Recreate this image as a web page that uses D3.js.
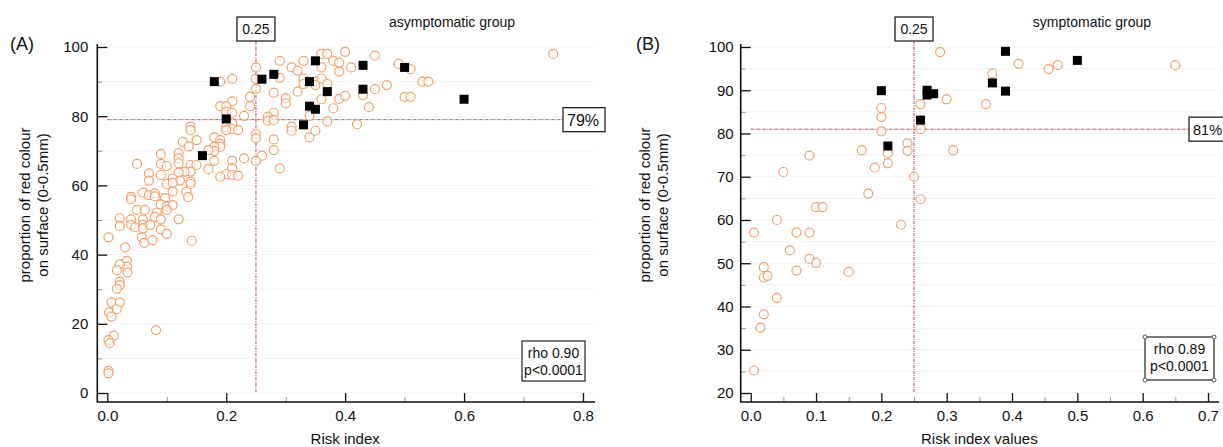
<!DOCTYPE html>
<html>
<head>
<meta charset="utf-8">
<script src="https://cdn.jsdelivr.net/npm/d3@7"></script>
<style>
body{margin:0;background:#fff}
text{font-family:"Liberation Sans",Arial,sans-serif;fill:#111}
</style>
</head>
<body>
<div id="chart"></div>
<script>
var w = 1223, h = 447

// asymptomatic group (A): [risk index, % red colour]
var asymOpen = [
[0.25,94.1],[0.21,90.8],[0.19,90.0],[0.25,90.8],[0.25,87.9],[0.24,85.6],[0.21,84.3],[0.19,82.9],[0.20,82.9],[0.24,82.9],
[0.20,81.3],[0.21,81.0],[0.23,80.1],[0.20,77.0],[0.21,77.9],[0.21,76.3],[0.22,76.0],[0.20,76.0],[0.14,77.0],[0.14,76.0],
[0.15,73.1],[0.127,72.6],[0.137,71.3],[0.18,73.9],[0.19,73.1],[0.19,72.0],[0.19,71.2],[0.18,71.2],[0.18,70.0],[0.25,74.9],
[0.25,73.6],[0.26,68.6],[0.25,67.1],[0.23,67.8],[0.17,70.2],[0.18,67.1],[0.17,64.7],[0.21,67.1],[0.21,65.0],[0.20,63.3],
[0.21,63.0],[0.22,62.8],[0.19,62.5],[0.12,69.3],[0.12,67.8],[0.12,66.4],[0.09,69.1],[0.09,66.2],[0.10,65.6],[0.05,66.2],
[0.14,65.9],[0.15,65.9],[0.14,64.0],[0.13,64.0],[0.12,63.7],[0.11,62.0],[0.122,61.4],[0.14,61.1],[0.14,60.4],[0.09,63.0],
[0.07,63.5],[0.07,61.4],[0.10,60.4],[0.11,60.8],[0.06,57.9],[0.07,57.2],[0.08,57.7],[0.08,56.8],[0.04,56.7],[0.04,56.0],
[0.097,56.3],[0.11,58.2],[0.133,58.2],[0.136,56.6],[0.09,54.5],[0.10,54.0],[0.11,54.3],[0.05,52.9],[0.063,52.9],[0.083,52.1],
[0.021,50.5],[0.021,48.3],[0.04,50.2],[0.04,48.6],[0.047,47.9],[0.06,50.2],[0.06,48.6],[0.06,47.6],[0.072,48.6],[0.08,50.9],
[0.09,50.2],[0.09,47.3],[0.10,46.0],[0.10,52.9],[0.12,50.2],[0.058,45.0],[0.062,43.4],[0.076,44.2],[0.142,44.0],[0.002,45.0],
[0.03,42.1],[0.033,38.2],[0.033,36.5],[0.034,34.8],[0.021,37.2],[0.016,35.5],[0.021,32.2],[0.021,31.2],[0.016,30.1],[0.007,26.2],
[0.021,26.2],[0.003,23.3],[0.016,24.2],[0.007,22.1],[0.082,18.2],[0.011,16.6],[0.002,15.3],[0.004,14.4],[0.002,6.4],[0.002,5.7],
[0.36,98.0],[0.37,98.0],[0.40,98.6],[0.45,97.5],[0.29,96.0],[0.33,96.0],[0.38,96.0],[0.39,95.5],[0.39,92.9],[0.36,94.1],
[0.31,94.1],[0.32,93.2],[0.41,94.1],[0.49,95.1],[0.51,93.6],[0.53,90.0],[0.54,90.0],[0.29,91.1],[0.33,90.9],[0.35,90.0],
[0.35,89.0],[0.36,90.9],[0.37,89.3],[0.33,89.3],[0.32,87.1],[0.28,86.8],[0.30,85.2],[0.30,83.7],[0.36,84.9],[0.39,85.0],
[0.40,85.9],[0.43,86.1],[0.45,87.8],[0.47,89.0],[0.50,85.6],[0.51,85.6],[0.38,82.3],[0.44,82.6],[0.28,81.0],[0.27,79.9],
[0.27,78.7],[0.28,78.9],[0.34,80.1],[0.31,77.0],[0.31,75.8],[0.35,75.8],[0.34,73.9],[0.37,78.5],[0.42,77.7],[0.28,73.3],
[0.28,70.2],[0.29,64.9],[0.75,98.0]
]
var asymFilled = [
[0.18,90.0],[0.26,90.7],[0.28,92.1],[0.35,96.0],[0.43,94.7],[0.50,94.1],[0.34,90.0],[0.37,87.1],
[0.43,87.8],[0.34,82.9],[0.35,82.0],[0.33,77.5],[0.20,79.2],[0.16,68.6],[0.60,84.9]
]

// symptomatic group (B)
var symOpen = [
[0.005,57.1],[0.04,60.0],[0.07,57.1],[0.09,57.1],[0.06,53.0],[0.09,51.0],[0.10,50.1],[0.02,49.1],[0.02,46.7],[0.026,47.1],
[0.07,48.3],[0.15,48.0],[0.04,42.0],[0.02,38.2],[0.015,35.1],[0.005,25.2],[0.23,58.9],[0.10,63.0],[0.11,63.0],[0.05,71.1],
[0.09,74.9],[0.17,76.1],[0.19,72.1],[0.18,66.1],[0.20,85.9],[0.20,83.8],[0.20,80.5],[0.21,75.5],[0.21,73.1],[0.29,98.8],
[0.41,96.1],[0.37,93.9],[0.456,94.9],[0.47,95.8],[0.30,87.9],[0.36,86.8],[0.26,86.8],[0.26,81.0],[0.24,77.7],[0.24,76.0],
[0.31,76.1],[0.25,70.0],[0.26,64.8],[0.65,95.8]
]
var symFilled = [
[0.20,89.9],[0.21,77.1],[0.39,99.0],[0.27,90.0],[0.27,88.9],[0.28,89.2],[0.26,83.1],[0.37,91.7],[0.39,89.8],[0.50,96.9]
]

var asymXTicks = [0, 0.2, 0.4, 0.6, 0.8]
var asymXMinor = [0.1, 0.3, 0.5, 0.7]
var asymYTicks = [0, 20, 40, 60, 80, 100]
var asymYMinor = [10, 30, 50, 70, 90]
var symXTicks = [0, 0.1, 0.2, 0.3, 0.4, 0.5, 0.6, 0.7]
var symXMinor = [0.05, 0.15, 0.25, 0.35, 0.45, 0.55, 0.65]
var symYTicks = [20, 30, 40, 50, 60, 70, 80, 90, 100]
var symYMinor = [25, 35, 45, 55, 65, 75, 85, 95]

var svg = d3.select("#chart").append("svg").attr("width", w).attr("height", h)

var orange = "#f5a06a"
var refColor = "#b9485c"

function drawPanel(p){
    var x = d3.scaleLinear().domain(p.xDomain).range(p.xRange)
    var y = d3.scaleLinear().domain(p.yDomain).range([393, 47])
    var g = svg.append("g")
    var axX = p.xRange[0] - 10, axY = 402

    // faint grid
    g.selectAll(".grid").data(p.yTicks.concat(p.yMinor)).enter().append("line")
        .attr("x1", axX).attr("x2", p.axEnd)
        .attr("y1", function(d){return y(d)}).attr("y2", function(d){return y(d)})
        .attr("stroke", "#f3f3f3").attr("stroke-width", 1)

    // reference lines
    g.append("line").attr("x1", x(p.refX)).attr("x2", x(p.refX))
        .attr("y1", 41).attr("y2", y(p.yDomain[0]))
        .attr("stroke", refColor).attr("stroke-width", 1).attr("stroke-dasharray", "3,1,1,1")
    g.append("line").attr("x1", x(0)).attr("x2", p.pctBox[0])
        .attr("y1", y(p.refY)).attr("y2", y(p.refY))
        .attr("stroke", refColor).attr("stroke-width", 1).attr("stroke-dasharray", "3,1,1,1")

    // axes
    var yAx = g.append("g").attr("transform", "translate(" + axX + ",0)")
        .call(d3.axisLeft(y).tickValues(p.yTicks).tickSizeInner(-10).tickSizeOuter(0).tickPadding(p.yPad))
    var yMin = g.append("g").attr("transform", "translate(" + axX + ",0)")
        .call(d3.axisLeft(y).tickValues(p.yMinor).tickSizeInner(-5).tickSizeOuter(0).tickFormat(""))
    var xAx = g.append("g").attr("transform", "translate(0," + axY + ")")
        .call(d3.axisBottom(x).tickValues(p.xTicks).tickSizeInner(-9).tickSizeOuter(0).tickPadding(8).tickFormat(d3.format(".1f")))
    var xMin = g.append("g").attr("transform", "translate(0," + axY + ")")
        .call(d3.axisBottom(x).tickValues(p.xMinor).tickSizeInner(-5).tickSizeOuter(0).tickFormat(""))
    g.selectAll(".domain").remove()
    yAx.selectAll("line").attr("stroke", "#111").attr("stroke-width", 1.3)
    xAx.selectAll("line").attr("stroke", "#111").attr("stroke-width", 1.3)
    yMin.selectAll("line").attr("stroke", "#999")
    xMin.selectAll("line").attr("stroke", "#999")
    g.selectAll(".tick text").attr("font-size", 15).style("font-family", "Liberation Sans, Arial, sans-serif")
    g.append("path").attr("d", "M" + axX + ",44V" + axY + "H" + p.axEnd)
        .attr("fill", "none").attr("stroke", "#111").attr("stroke-width", 1.6)

    // points
    g.selectAll(".open").data(p.open).enter().append("circle")
        .attr("cx", function(d){return x(d[0])})
        .attr("cy", function(d){return y(d[1])})
        .attr("r", 4.5).attr("fill", "#fff").attr("fill-opacity", 0.6)
        .attr("stroke", orange).attr("stroke-width", 1.2)
    g.selectAll(".filled").data(p.filled).enter().append("rect")
        .attr("x", function(d){return x(d[0]) - 4.5})
        .attr("y", function(d){return y(d[1]) - 4.5})
        .attr("width", 9).attr("height", 9).attr("fill", "#000")

    // labels
    g.append("text").attr("x", p.panelX).attr("y", 50).attr("font-size", 18).text(p.panel)
    g.append("text").attr("x", p.titleX).attr("y", 27).attr("font-size", 14).attr("text-anchor", "middle").text(p.title)
    g.append("text").attr("x", (p.xRange[0] + p.xRange[1]) / 2).attr("y", 444)
        .attr("font-size", 15).attr("text-anchor", "middle").text(p.xLabel)
    var yl = g.append("text").attr("transform", "translate(" + p.yLabelX + ",205) rotate(-90)")
        .attr("font-size", 15).attr("text-anchor", "middle")
    yl.append("tspan").attr("x", 0).attr("dy", 0).text("proportion of red colour")
    yl.append("tspan").attr("x", 0).attr("dy", 18).text("on surface (0-0.5mm)")

    // 0.25 box
    var bx = x(p.refX)
    g.append("rect").attr("x", bx - 19).attr("y", 17).attr("width", 38).attr("height", 24)
        .attr("fill", "#fff").attr("stroke", "#222").attr("stroke-width", 1.3)
    g.append("text").attr("x", bx).attr("y", 34).attr("font-size", 14).attr("text-anchor", "middle").text("0.25")

    // percent box
    var py = y(p.refY)
    g.append("rect").attr("x", p.pctBox[0]).attr("y", py - 12).attr("width", p.pctBox[1]).attr("height", 24)
        .attr("fill", "#fff").attr("stroke", "#222").attr("stroke-width", 1.3)
    g.append("text").attr("x", p.pctBox[0] + 4).attr("y", py + 6).attr("font-size", p.pctFont).text(p.refY + "%")

    // rho box
    var rb = p.rhoBox
    g.append("rect").attr("x", rb[0]).attr("y", rb[1]).attr("width", rb[2]).attr("height", rb[3])
        .attr("fill", "#fff").attr("stroke", "#222").attr("stroke-width", 1.2)
    g.append("text").attr("x", rb[0] + rb[2] / 2).attr("y", rb[1] + 17).attr("font-size", 14)
        .attr("text-anchor", "middle").text(p.rho)
    g.append("text").attr("x", rb[0] + rb[2] / 2).attr("y", rb[1] + 34).attr("font-size", 14)
        .attr("text-anchor", "middle").text("p<0.0001")
    if(p.handles){
        var hs = [[rb[0], rb[1]], [rb[0] + rb[2], rb[1]], [rb[0], rb[1] + rb[3]], [rb[0] + rb[2], rb[1] + rb[3]]]
        g.selectAll(".hnd").data(hs).enter().append("circle")
            .attr("cx", function(d){return d[0]}).attr("cy", function(d){return d[1]})
            .attr("r", 2).attr("fill", "#fff").attr("stroke", "#555")
    }
}

drawPanel({
    xDomain: [0, 0.8], xRange: [107.3, 583], yDomain: [0, 100], axEnd: 595,
    xTicks: asymXTicks, xMinor: asymXMinor, yTicks: asymYTicks, yMinor: asymYMinor, yPad: 9,
    open: asymOpen, filled: asymFilled, refX: 0.25, refY: 79,
    panel: "(A)", panelX: 10, title: "asymptomatic group", titleX: 452, xLabel: "Risk index", yLabelX: 30,
    pctBox: [563, 42], pctFont: 16, rhoBox: [522, 341, 63, 40], rho: "rho 0.90", handles: false
})
drawPanel({
    xDomain: [0, 0.7], xRange: [750.7, 1208], yDomain: [20, 100], axEnd: 1219,
    xTicks: symXTicks, xMinor: symXMinor, yTicks: symYTicks, yMinor: symYMinor, yPad: 7,
    open: symOpen, filled: symFilled, refX: 0.25, refY: 81,
    panel: "(B)", panelX: 636, title: "symptomatic group", titleX: 1092, xLabel: "Risk index values", yLabelX: 650,
    pctBox: [1189, 40], pctFont: 14.5, rhoBox: [1145, 337, 69, 43], rho: "rho 0.89", handles: true
})
</script>
</body>
</html>
